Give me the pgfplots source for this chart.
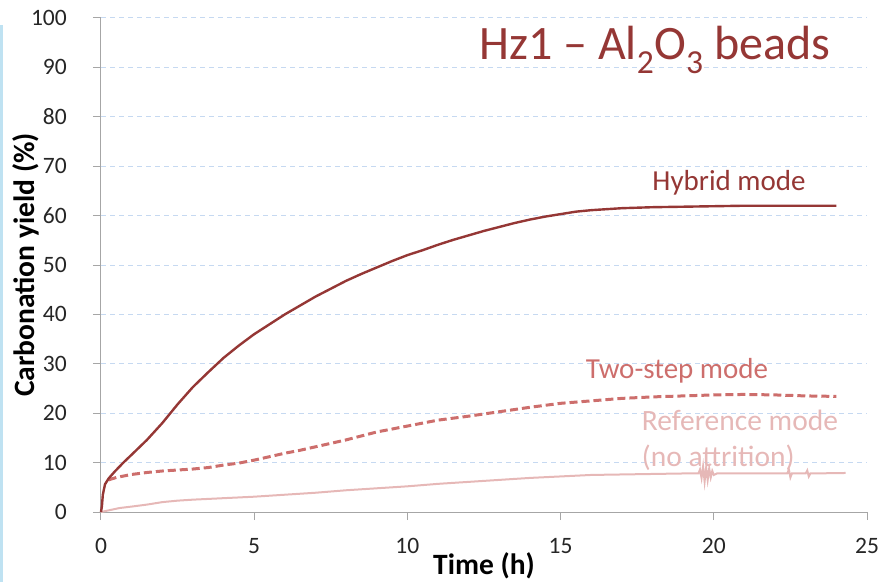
\documentclass[border=0pt]{standalone}
\usepackage{fontspec}
\setmainfont{Carlito}
\usepackage{pgfplots}
\pgfplotsset{compat=1.18}
\usepackage{pgfplotstable}
\definecolor{hyb}{HTML}{953735}
\definecolor{two}{HTML}{CD6E6C}
\definecolor{refc}{HTML}{E6B8B7}
\definecolor{gridc}{HTML}{C6D9F1}
\definecolor{axc}{HTML}{A6A6A6}
\definecolor{stripe}{HTML}{BFE2F2}

\pgfplotstableread{
t y
0.00 0.0
0.03 1.2
0.06 3.5
0.13 5.6
0.25 6.8
0.45 8.2
0.73 10.0
1.0 11.6
1.5 14.6
2.0 18.0
2.5 21.8
3.0 25.3
3.5 28.3
4.0 31.2
4.5 33.7
5.0 36.0
5.5 38.0
6.0 40.0
6.5 41.8
7.0 43.6
7.5 45.2
8.0 46.8
8.5 48.2
9.0 49.5
9.5 50.8
10.0 52.0
10.5 53.0
11.0 54.1
11.5 55.1
12.0 56.0
12.5 56.9
13.0 57.7
13.5 58.5
14.0 59.2
14.5 59.8
15.0 60.3
15.5 60.8
16.0 61.1
16.5 61.3
17.0 61.5
18.0 61.7
19.0 61.8
20.0 61.9
21.0 62.0
22.0 62.0
23.0 62.0
24.0 62.0
}\hybrid

\pgfplotstableread{
t y
0.25 6.5
0.5 7.0
1.0 7.6
1.5 8.0
2.0 8.3
2.5 8.5
3.0 8.7
3.5 9.0
4.0 9.5
4.5 9.9
5.0 10.5
5.5 11.2
6.0 11.9
6.5 12.5
7.0 13.2
7.5 13.9
8.0 14.6
8.5 15.4
9.0 16.2
9.5 16.8
10.0 17.4
10.5 18.0
11.0 18.6
11.5 19.0
12.0 19.4
13.0 20.3
14.0 21.2
15.0 22.0
16.0 22.5
17.0 23.0
18.0 23.3
19.0 23.5
20.0 23.7
21.0 23.8
22.0 23.7
23.0 23.5
24.0 23.4
}\twostep

\pgfplotstableread{
t y
0 0
0.3 0.4
0.6 0.8
1.0 1.1
1.5 1.5
2.0 2.0
2.5 2.3
3.0 2.5
4.0 2.8
5.0 3.1
6.0 3.5
7.0 3.9
8.0 4.4
9.0 4.8
10.0 5.2
11.0 5.7
12.0 6.1
13.0 6.5
14.0 6.9
15.0 7.2
16.0 7.5
17.0 7.6
18.0 7.7
19.0 7.8
19.5 7.8
19.55 8.6
19.6 6.9
19.65 9.2
19.7 6.2
19.75 9.0
19.8 6.5
19.85 8.8
19.9 7.0
19.95 8.3
20.0 7.5
20.1 7.8
21.0 7.8
22.4 7.8
22.45 8.6
22.5 7.0
22.55 7.8
23.0 7.8
23.05 8.4
23.1 7.2
23.15 7.8
24.3 7.9
}\reference

\begin{document}
\begin{tikzpicture}
\useasboundingbox (-101pt,-70pt) rectangle (781pt,512pt);
\fill[stripe] (-101pt,-70pt) rectangle (-98pt,487pt);
\begin{axis}[
  at={(0,0)}, anchor=south west,
  scale only axis, width=766pt, height=494pt,
  xmin=0, xmax=25, ymin=0, ymax=100,
  xtick={0,5,...,25}, ytick={0,10,...,100},
  axis x line=bottom, axis y line=left,
  axis line style={-, axc, line width=1pt},
  tick align=outside, major tick length=8pt,
  tick style={axc, line width=1pt},
  ymajorgrids, grid style={gridc, line width=1pt, dash pattern=on 5pt off 4pt},
  xticklabel={\pgfmathprintnumber[assume math mode=true]{\tick}},
  yticklabel={\pgfmathprintnumber[assume math mode=true]{\tick}},
  every tick label/.append style={font=\fontsize{23.5}{26}\selectfont, text=black!85, inner sep=0pt},
  xticklabel style={anchor=north, yshift=-18pt},
  yticklabel style={anchor=east, xshift=-26pt},
  every axis x label/.style={at={(axis description cs:0.5,0)}, yshift=-54pt, anchor=center, font=\fontsize{29.5}{32}\selectfont\bfseries},
  every axis y label/.style={at={(axis description cs:0,0.5)}, xshift=-75pt, rotate=90, anchor=center, font=\fontsize{29.5}{32}\selectfont\bfseries},
  xlabel={Time (h)}, ylabel={Carbonation yield (\%)},
  clip=false,
]
\addplot[refc, line width=2pt] table {\reference};
\addplot[two, line width=3pt, dash pattern=on 8pt off 4pt] table {\twostep};
\addplot[hyb, line width=2.4pt] table {\hybrid};
\end{axis}
\node[text=hyb, font=\fontsize{48}{50}\selectfont, anchor=base, inner sep=0] at (554pt,452pt) {Hz1 -- Al\textsubscript{2}O\textsubscript{3} beads};
\node[text=hyb, font=\fontsize{29}{32}\selectfont, anchor=base, inner sep=0] at (628pt,322pt) {Hybrid mode};
\node[text=two, font=\fontsize{29}{32}\selectfont, anchor=base, inner sep=0] at (576pt,133.7pt) {Two-step mode};
\node[text=refc, font=\fontsize{29.5}{32}\selectfont, anchor=base west, inner sep=0] at (540.7pt,81.3pt) {Reference mode};
\node[text=refc, font=\fontsize{29.5}{32}\selectfont, anchor=base west, inner sep=0] at (540.7pt,46pt) {(no attrition)};
\end{tikzpicture}
\end{document}
